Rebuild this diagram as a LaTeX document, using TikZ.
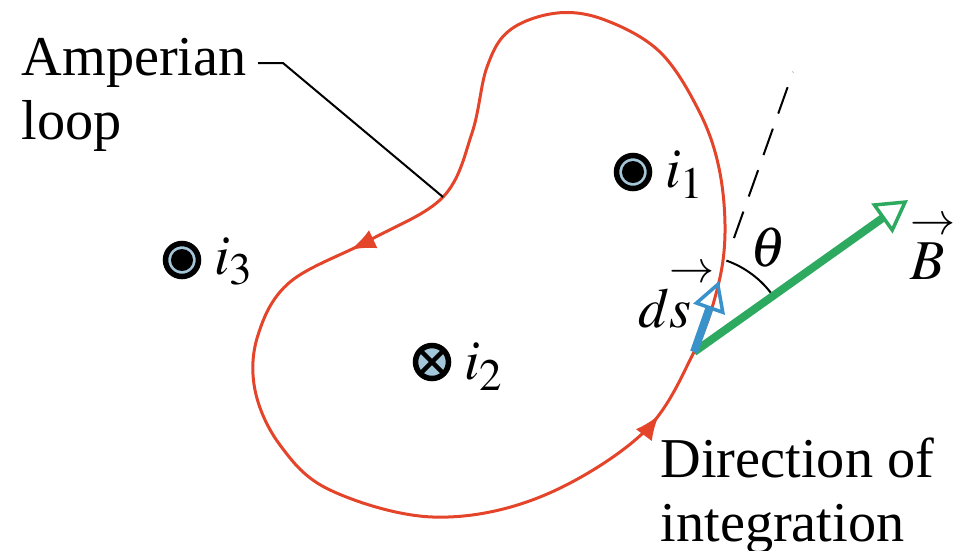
\documentclass[tikz,border=0pt]{standalone}
\usepackage{mathptmx}
\usepackage[no-math]{fontspec}
\setmainfont{Liberation Serif}
\usetikzlibrary{arrows.meta,positioning,decorations.markings}
\DeclareMathSizes{16}{16}{12.8}{10.5}
\newcommand{\varr}[1]{\mathord{\rlap{\raisebox{0.8em}{$\scriptstyle\rightarrow$}}#1}}
\definecolor{LoopRed}{HTML}{E4452A}
\definecolor{DsBlue}{HTML}{3A92CB}
\definecolor{FieldGreen}{HTML}{2EAA60}
\definecolor{WireBlue}{HTML}{A3C6D9}

\begin{document}
\begin{tikzpicture}[x=0.01cm, y=-0.01cm,
  font=\fontsize{16}{18.2}\selectfont,
  amploop/.style={draw=LoopRed, line width=0.03cm,
    decoration={markings,
      mark=at position 0.19 with {\arrow[LoopRed]{Latex[length=0.25cm,width=0.2cm]}},
      mark=at position 0.635 with {\arrow[LoopRed]{Latex[length=0.25cm,width=0.2cm]}}},
    postaction={decorate}},
  wire/.style={circle, draw=black, line width=0.055cm, fill=WireBlue,
    minimum size=0.33cm, inner sep=0pt},
  curout/.style={wire, path picture={\fill[black] (path picture bounding box.center) circle (0.11cm);}},
  curin/.style={wire, path picture={\draw[black, line width=0.045cm]
      (path picture bounding box.north west) -- (path picture bounding box.south east)
      (path picture bounding box.north east) -- (path picture bounding box.south west);}},
  curlab/.style={inner sep=0pt},
  txt/.style={inner sep=0pt, align=left, anchor=north west},
  leader/.style={draw=black, line width=0.02cm},
  dsarr/.style={draw=DsBlue, line width=0.08cm,
    -{Triangle[open, length=0.3cm, width=0.33cm, line width=0.035cm]}},
  barr/.style={draw=FieldGreen, line width=0.08cm,
    -{Triangle[open, length=0.32cm, width=0.36cm, line width=0.035cm]}}]
  \useasboundingbox (0,0) rectangle (957,550);

  % the Amperian loop
  \draw[amploop] plot[smooth cycle, tension=0.6] coordinates {
    (557,13) (510,30) (487,67) (472,133) (443,197) (370,240) (290,282)
    (258,335) (255,390) (280,445) (330,490) (433,517) (540,497) (643,433)
    (694,352) (717,290) (725,233) (719,168) (699,111) (660,52) (605,20)};
  \coordinate (lp) at (443,197);
  \coordinate (o) at (694,352);

  % currents
  \node[curout] (c1) at (633,172) {};
  \node[curin] (c2) at (432,362) {};
  \node[curout] (c3) at (182,260) {};
  \node[curlab, right=3.5pt of c1, anchor=base west, yshift=-4.5pt] (i1) {$i_1$};
  \node[curlab, right=3.5pt of c2, anchor=base west, yshift=-5pt] (i2) {$i_2$};
  \node[curlab, right=3.5pt of c3, anchor=base west, yshift=-4pt] (i3) {$i_3$};

  % labels
  \node[txt] (amp) at (21,38) {Amperian\\loop};
  \coordinate (ld0) at (258,63);
  \coordinate (ld1) at (283,63);
  \draw[leader] (ld0) -- (ld1) -- (lp);
  \node[txt] (dir) at (660,437) {Direction of\\integration};

  % tangent, angle and vectors
  \coordinate (dbot) at (734,238);
  \coordinate (dtop) at (793,72);
  \draw[leader, dash pattern=on 0.28cm off 0.16cm] (dbot) -- (dtop);
  \draw[leader] (o) ++(-70.5:97) arc[start angle=-70.5, end angle=-35.4, radius=97];
  \coordinate (btip) at (908,200);
  \coordinate (stip) at (719,281);
  \draw[barr] (o) -- (btip);
  \draw[dsarr] (o) -- (stip);
  \node (th) at (768,248) {$\theta$};
  \node[curlab, anchor=base west] (bl) at (910,279) {$\varr{B}$};
  \node[curlab, anchor=base west] (dsl) at (638,327) {$d\varr{s}$};
\end{tikzpicture}
\end{document}
